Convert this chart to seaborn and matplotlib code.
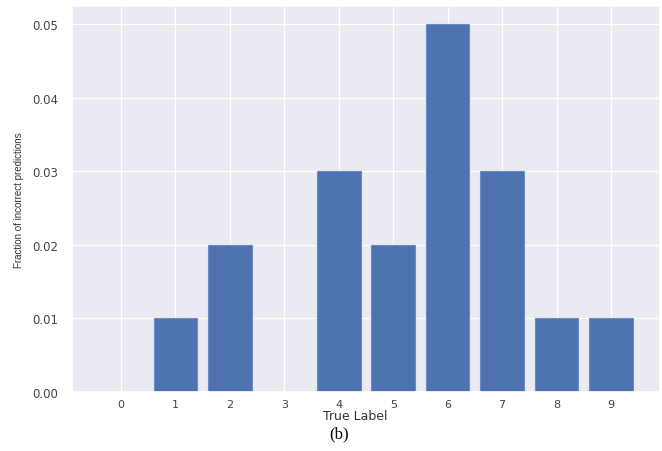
import pandas as pd
import seaborn as sns
import matplotlib.pyplot as plt

# Fraction of incorrect predictions per true label
labels = ['0', '1', '2', '3', '4', '5', '6', '7', '8', '9']
fractions = [0.00, 0.01, 0.02, 0.00, 0.03, 0.02, 0.05, 0.03, 0.01, 0.01]

df = pd.DataFrame({'True Label': labels, 'Fraction': fractions})

sns.set_theme(style='darkgrid')
plt.rcParams['font.family'] = ['DejaVu Sans']

fig = plt.figure(figsize=(6.62, 4.52), dpi=100)
ax = fig.add_axes([72 / 662, 59 / 452, 588 / 662, 386 / 452])

sns.barplot(data=df, x='True Label', y='Fraction', color='#4C72B0',
            saturation=1, width=0.8, edgecolor='#6d8cc4', linewidth=0.8, ax=ax)

ax.set_xlim(-0.9, 9.9)
ax.set_ylim(0, 0.0525)
ax.set_yticks([0.00, 0.01, 0.02, 0.03, 0.04, 0.05])
ax.set_yticklabels(['0.00', '0.01', '0.02', '0.03', '0.04', '0.05'])
ax.xaxis.grid(True, color='white', linewidth=0.8)
ax.yaxis.grid(True, color='white', linewidth=0.8)
ax.set_axisbelow(True)

ax.tick_params(axis='x', labelsize=8, labelcolor='#444444', pad=-1)
ax.tick_params(axis='y', labelsize=8.5, labelcolor='#444444', pad=4)
ax.set_xlabel('True Label', fontsize=9, color='#333333')
ax.xaxis.set_label_coords(0.481, -0.044)
ax.set_ylabel('Fraction of incorrect predictions', fontsize=7,
              color='#333333', family='Liberation Sans', labelpad=6)

fig.text(339 / 662, 1 - 434 / 452, '(b)', ha='center', va='center',
         fontsize=12, family='Liberation Serif', color='black')

fig.savefig('out.png', dpi=100)
